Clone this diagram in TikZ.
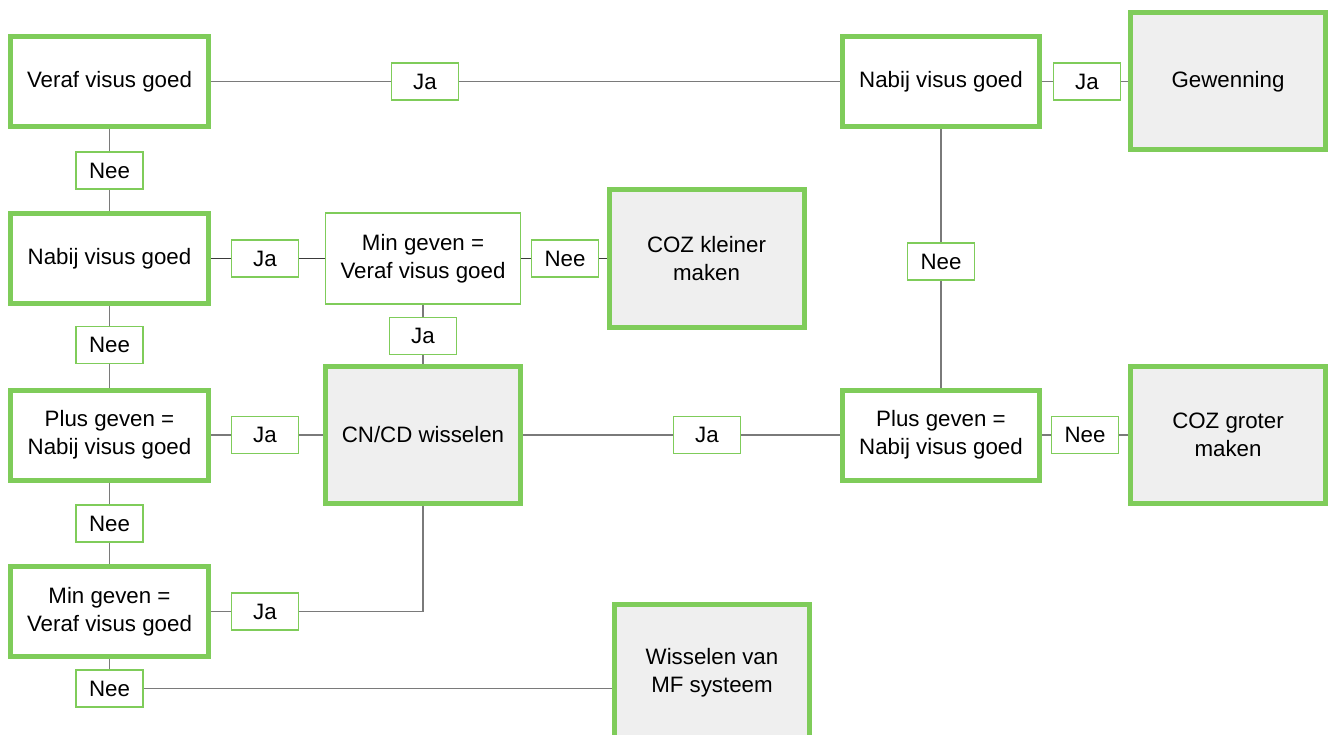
\documentclass[tikz,border=0pt]{standalone}
\usepackage{fontspec}
\setmainfont{Liberation Sans}
\definecolor{groen}{HTML}{7FCC5A}
\definecolor{grijsvul}{HTML}{EFEFEF}
\definecolor{grijslijn}{HTML}{7A7A7A}
\definecolor{donker}{HTML}{3A3A3A}
\tikzset{
  stap/.style={rectangle, draw=groen, line width=5pt, fill=white, align=center,
    minimum width=198pt, minimum height=90pt, inner sep=4pt,
    font=\fontsize{22.3}{28}\selectfont},
  eind/.style={stap, fill=grijsvul, minimum width=195pt, minimum height=137pt},
  vraag/.style={stap, line width=1.8pt, minimum width=195pt, minimum height=91pt},
  keuze/.style={rectangle, draw=groen, line width=1.8pt, fill=white,
    minimum width=67pt, minimum height=37pt, inner sep=2pt,
    font=\fontsize{22.3}{28}\selectfont},
  lijn/.style={draw=grijslijn, line width=1.8pt},
  lijnd/.style={lijn, draw=donker},
}
\begin{document}
\begin{tikzpicture}[x=1pt, y=-1pt]
    \useasboundingbox (0,0) rectangle (1329,735);
    \clip (0,0) rectangle (1329,735);
    % Linker kolom
    \node[stap] (veraf) at (109.5,81.5) {Veraf visus goed};
    \node[stap] (nabijL) at (109.5,258.5) {Nabij visus goed};
    \node[stap] (plusL) at (109.5,435) {Plus geven =\\Nabij visus goed};
    \node[stap] (minL) at (109.5,611.5) {Min geven =\\Veraf visus goed};
    % Midden
    \node[vraag] (minM) at (423,258.5) {Min geven =\\Veraf visus goed};
    \node[eind] (cozK) at (706.5,258.5) {COZ kleiner\\maken};
    \node[eind] (cncd) at (423,435) {CN/CD wisselen};
    \node[eind] (wissel) at (712,673) {Wisselen van\\MF systeem};
    % Rechter kolom
    \node[stap, minimum width=197pt] (nabijR) at (941,81.5) {Nabij visus goed};
    \node[stap, minimum width=197pt] (plusR) at (941,435) {Plus geven =\\Nabij visus goed};
    \node[eind] (gewen) at (1228,81.5) {Gewenning};
    \node[eind] (cozG) at (1228,435) {COZ groter\\maken};
    % Keuzes
    \node[keuze] (nee1) at (109.5,170.5) {Nee};
    \node[keuze] (nee2) at (109.5,345) {Nee};
    \node[keuze] (nee3) at (109.5,523.5) {Nee};
    \node[keuze] (nee4) at (109.5,688.5) {Nee};
    \node[keuze] (ja2) at (265,258.5) {Ja};
    \node[keuze] (ja3) at (265,435) {Ja};
    \node[keuze] (ja4) at (265,611.5) {Ja};
    \node[keuze] (jaTop) at (425,81.5) {Ja};
    \node[keuze] (jaV) at (423,336) {Ja};
    \node[keuze] (neeK) at (565,258.5) {Nee};
    \node[keuze] (jaMid) at (707,435) {Ja};
    \node[keuze] (jaGew) at (1087,81.5) {Ja};
    \node[keuze] (neeR1) at (941,261.5) {Nee};
    \node[keuze] (neeR2) at (1085,435) {Nee};

    \draw[lijn] (veraf) -- (nee1) -- (nabijL);
    \draw[lijn] (nabijL) -- (nee2) -- (plusL);
    \draw[lijn] (plusL) -- (nee3) -- (minL);
    \draw[lijn] (minL) -- (nee4);
    \draw[lijn] (nee4) -- (nee4 -| wissel.west);
    \draw[lijn] (veraf) -- (jaTop) -- (nabijR);
    \draw[lijn] (nabijR) -- (jaGew) -- (gewen);
    \draw[lijn] (nabijR) -- (neeR1) -- (plusR);
    \draw[lijn] (plusR) -- (neeR2) -- (cozG);
    \draw[lijnd] (nabijL) -- (ja2) -- (minM);
    \draw[lijnd] (minM) -- (neeK) -- (cozK);
    \draw[lijn] (minM) -- (jaV) -- (cncd);
    \draw[lijn] (plusL) -- (ja3) -- (cncd);
    \draw[lijn] (cncd) -- (jaMid) -- (plusR);
    \draw[lijn] (minL) -- (ja4);
    \draw[lijn] (ja4) -| (cncd);
  \end{tikzpicture}
\end{document}
